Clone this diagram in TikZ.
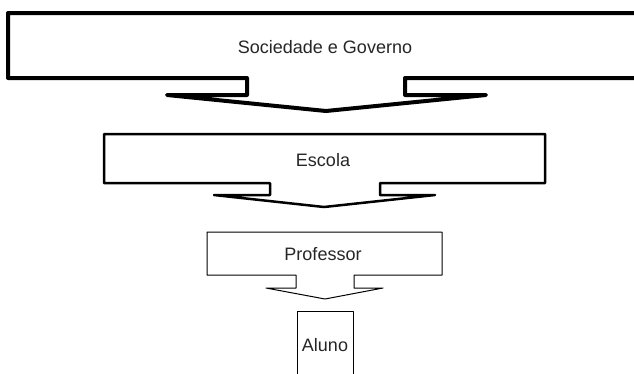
\documentclass[tikz,border=0pt]{standalone}
\usepackage{fontspec}
\setmainfont{Liberation Sans}
\begin{document}
\begin{tikzpicture}[x=1pt,y=-1pt,
  shapeline/.style={draw=black,line join=round,fill=white},
  lbl/.style={font=\fontsize{18}{20}\selectfont,text=black!85,inner sep=0pt}]
\useasboundingbox (0,0) rectangle (634,373);
\clip (0,0) rectangle (634,373);
\fill[white] (0,0) rectangle (634,373);
\draw[shapeline,line width=4pt] (8,13) -- (660,13) -- (660,78) -- (405,78) -- (405,95) -- (486,95) -- (326,111) -- (167,95) -- (247,95) -- (247,78) -- (8,78) -- cycle;
\draw[shapeline,line width=2.5pt] (104,134) -- (545,134) -- (545,183) -- (380,183) -- (380,195) -- (435,195) -- (324,207) -- (214,195) -- (270,195) -- (270,183) -- (104,183) -- cycle;
\draw[shapeline,line width=1pt] (207,232) -- (442,232) -- (442,275) -- (354,275) -- (354,288) -- (383,288) -- (325,299) -- (266,288) -- (296,288) -- (296,275) -- (207,275) -- cycle;
\draw[shapeline,line width=1pt] (297,311) rectangle (353,385);
\node[lbl] (soc) at (325,47) {Sociedade e Governo};
\node[lbl] (esc) at (323,160) {Escola};
\node[lbl] (prof) at (323,254) {Professor};
\node[lbl] (alu) at (325,345) {Aluno};
\end{tikzpicture}
\end{document}
